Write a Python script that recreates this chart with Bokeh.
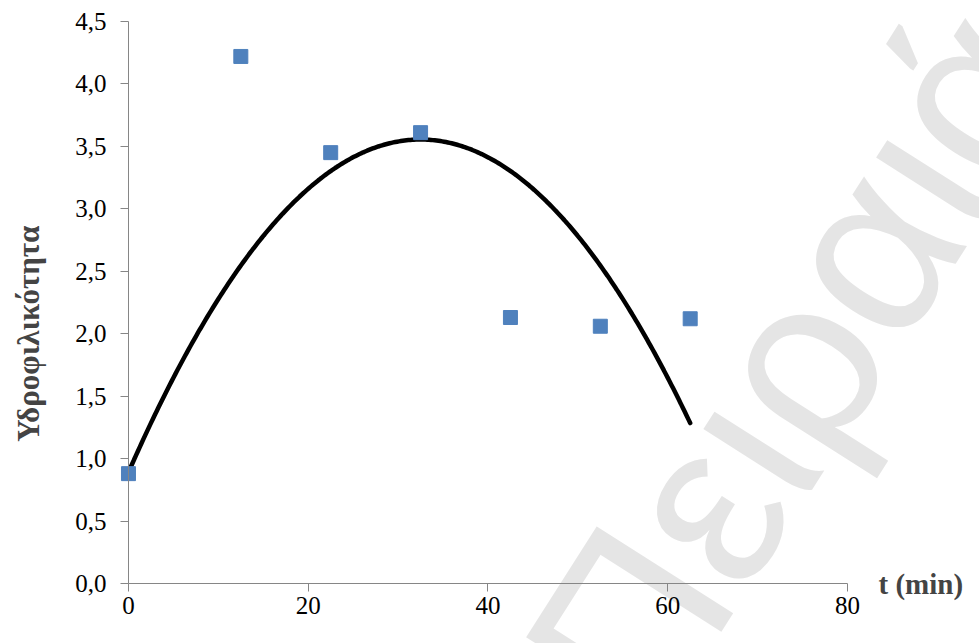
import numpy as np
from bokeh.plotting import figure
from bokeh.models import Range1d, FixedTicker, CustomJSTickFormatter, Label, ColumnDataSource
from bokeh.embed import file_html
from bokeh.resources import INLINE

# ---- data ----
time_min = [0, 12.5, 22.5, 32.5, 42.5, 52.5, 62.5]
hydrophilicity = [0.88, 4.22, 3.45, 3.61, 2.13, 2.06, 2.12]
# polynomial (order 2) trendline coefficients
trend_coef = [-0.002522, 0.16393, 0.891]
trend_span = [0, 62.5]
y_ticks = [0, 0.5, 1, 1.5, 2, 2.5, 3, 3.5, 4, 4.5]
x_ticks = [0, 20, 40, 60, 80]
y_title = "Υδροφιλικότητα"
x_title = "t (min)"
watermark = "Πειραιά"

SERIF = "Liberation Serif"

p = figure(width=979, height=643,
           x_range=Range1d(-14.24, 94.69), y_range=Range1d(-0.48, 4.668),
           output_backend="svg", toolbar_location=None, min_border=0)
p.xgrid.visible = False
p.ygrid.visible = False
p.outline_line_color = None

# faint watermark behind everything
p.add_layout(Label(x=50.63, y=-0.905, text=watermark, angle=1.0036,
                   text_font="Liberation Sans", text_font_size="235px",
                   text_color="#e5e5e5", text_align="left",
                   text_baseline="alphabetic", level="underlay"))

# trendline
tx = np.linspace(trend_span[0], trend_span[1], 300)
ty = np.polyval(trend_coef, tx)
p.line(tx, ty, line_color="black", line_width=4.5, line_cap="round")

# data points
src = ColumnDataSource(dict(x=time_min, y=hydrophilicity))
p.scatter("x", "y", source=src, marker="square", size=14,
          fill_color="#4F81BD", line_color="#4F81BD")

for ax, ticks, bnd in ((p.xaxis, x_ticks, (0, 80)), (p.yaxis, y_ticks, (0, 4.5))):
    ax.fixed_location = 0
    ax.ticker = FixedTicker(ticks=ticks)
    ax.bounds = bnd
    ax.minor_tick_line_color = None
    ax.major_tick_in = 0
    ax.major_tick_out = 8
    ax.axis_line_color = "#868686"
    ax.major_tick_line_color = "#868686"
    ax.major_label_text_font = SERIF
    ax.major_label_text_font_size = "25px"
    ax.major_label_text_color = "black"

p.yaxis.formatter = CustomJSTickFormatter(code="return tick.toFixed(1).replace('.', ',');")
p.yaxis.major_label_standoff = 14
p.xaxis.major_label_standoff = 5

p.add_layout(Label(x=-11.1, y=2.0, text=y_title, angle=np.pi / 2,
                   text_font=SERIF, text_font_size="31px", text_font_style="bold",
                   text_align="center", text_baseline="middle"))
p.add_layout(Label(x=80, y=0, x_offset=31, text=x_title,
                   text_font=SERIF, text_font_size="29px", text_font_style="bold",
                   text_align="left", text_baseline="middle"))

open("out.html", "w").write(file_html(p, INLINE))
